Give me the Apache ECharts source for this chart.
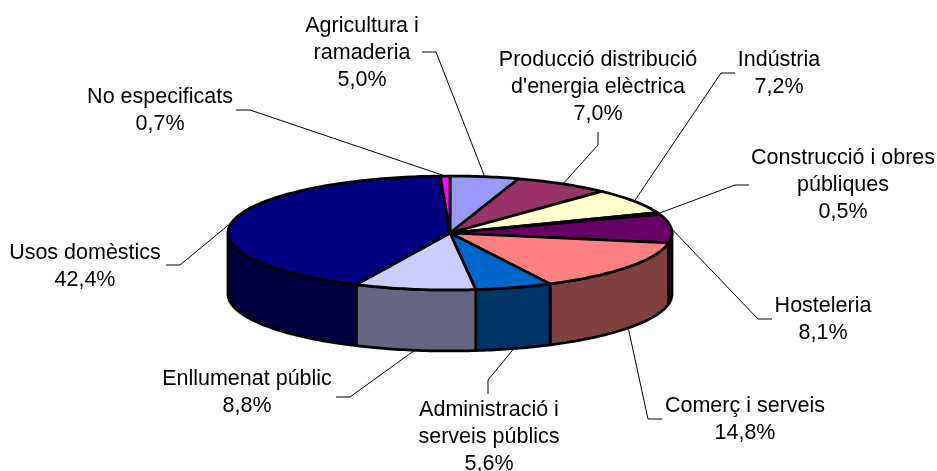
<!DOCTYPE html>
<html>
<head>
<meta charset="utf-8">
<style>
  html, body { margin: 0; padding: 0; background: #fff; }
  #chart { width: 937px; height: 471px; }
</style>
<script src="https://cdn.jsdelivr.net/npm/echarts@6/dist/echarts.min.js"></script>
</head>
<body>
<div id="chart"></div>
<script>
const categories = [
  'Agricultura i\nramaderia',
  "Producció distribució\nd'energia elèctrica",
  'Indústria',
  'Construcció i obres\npúbliques',
  'Hosteleria',
  'Comerç i serveis',
  'Administració i\nserveis públics',
  'Enllumenat públic',
  'Usos domèstics',
  'No especificats'
];
const shares = [5.0, 7.0, 7.2, 0.5, 8.1, 14.8, 5.6, 8.8, 42.4, 0.7];

const topColors = ['#9999FF', '#993366', '#FFFFCC', '#CCFFFF', '#660066', '#FF8080', '#0066CC', '#CCCCFF', '#000080', '#FF00FF'];
const sideColors = ['#4D4D80', '#4D1A33', '#808066', '#668080', '#330033', '#804040', '#003366', '#666680', '#000040', '#800080'];

// label centre and the leader from the label to the elbow, page pixels
const labelBoxes = [
  { x: 362, y: 52, from: [422, 52], elbow: [436, 52] },
  { x: 598, y: 86, from: [598, 132], elbow: [598, 145] },
  { x: 779, y: 73, from: [735, 73], elbow: [721, 73] },
  { x: 843, y: 184, from: [749, 185], elbow: [735, 185] },
  { x: 823, y: 319, from: [772, 319], elbow: [758, 319] },
  { x: 745, y: 419, from: [662, 419], elbow: [648, 419] },
  { x: 489, y: 436, from: [488, 394], elbow: [488, 380] },
  { x: 247, y: 392, from: [336, 397], elbow: [350, 397] },
  { x: 85, y: 266, from: [166, 265], elbow: [180, 265] },
  { x: 160, y: 110, from: [236, 110], elbow: [250, 110] }
];

const CX = 450;
const CY = 233;
const RX = 222;
const RY = 57;
const DEPTH = 61;
const FONT_SIZE = 21.5;
const EDGE = 2.75;

const total = shares.reduce((acc, v) => acc + v, 0);
const startAngles = shares.reduce((acc, v, i) => {
  acc.push(i === 0 ? 0 : acc[i - 1] + (shares[i - 1] / total) * 360);
  return acc;
}, []);

// angle in degrees, clockwise from 12 o'clock, on the tilted ellipse
const rim = (deg, drop) => {
  const a = (deg * Math.PI) / 180;
  return [CX + RX * Math.sin(a), CY - RY * Math.cos(a) + (drop || 0)];
};

const arcPoints = (from, to, drop) => {
  const pts = [];
  const steps = Math.max(2, Math.ceil(to - from));
  for (let k = 0; k <= steps; k++) {
    pts.push(rim(from + ((to - from) * k) / steps, drop));
  }
  return pts;
};

const sideItem = (params) => {
  const i = params.dataIndex;
  const from = Math.max(startAngles[i], 90);
  const to = Math.min(startAngles[i] + (shares[i] / total) * 360, 270);
  if (to <= from) return null;
  return {
    type: 'polygon',
    shape: { points: arcPoints(from, to, 0).concat(arcPoints(from, to, DEPTH).reverse()) },
    style: { fill: sideColors[i], stroke: '#000', lineWidth: EDGE, lineJoin: 'round' }
  };
};

const topItem = (params) => {
  const i = params.dataIndex;
  const from = startAngles[i];
  const to = from + (shares[i] / total) * 360;
  return {
    type: 'polygon',
    shape: { points: [[CX, CY]].concat(arcPoints(from, to, 0)) },
    style: { fill: topColors[i], stroke: '#000', lineWidth: EDGE, lineJoin: 'round' }
  };
};

const labelItem = (params) => {
  const i = params.dataIndex;
  const box = labelBoxes[i];
  const mid = startAngles[i] + (shares[i] / total) * 180;
  const lower = mid > 90 && mid < 270;
  const anchor = rim(mid, lower ? DEPTH : 0);
  const text = categories[i] + '\n' + shares[i].toFixed(1).replace('.', ',') + '%';
  return {
    type: 'group',
    children: [
      {
        type: 'polyline',
        shape: { points: [box.from, box.elbow, anchor] },
        style: { fill: null, stroke: '#000', lineWidth: 1 }
      },
      {
        type: 'text',
        style: {
          text: text,
          x: box.x,
          y: box.y + 1,
          align: 'center',
          verticalAlign: 'middle',
          font: FONT_SIZE + 'px "Liberation Sans", Arial, sans-serif',
          lineHeight: 27,
          fill: '#000'
        }
      }
    ]
  };
};

const makeSeries = (renderItem, z) => ({
  type: 'custom',
  coordinateSystem: 'none',
  data: shares,
  renderItem: renderItem,
  z: z,
  animation: false,
  silent: true
});

const chart = echarts.init(document.getElementById('chart'), null, { renderer: 'canvas' });
chart.setOption({
  backgroundColor: '#fff',
  animation: false,
  series: [makeSeries(labelItem, 1), makeSeries(sideItem, 2), makeSeries(topItem, 3)]
});
</script>
</body>
</html>
